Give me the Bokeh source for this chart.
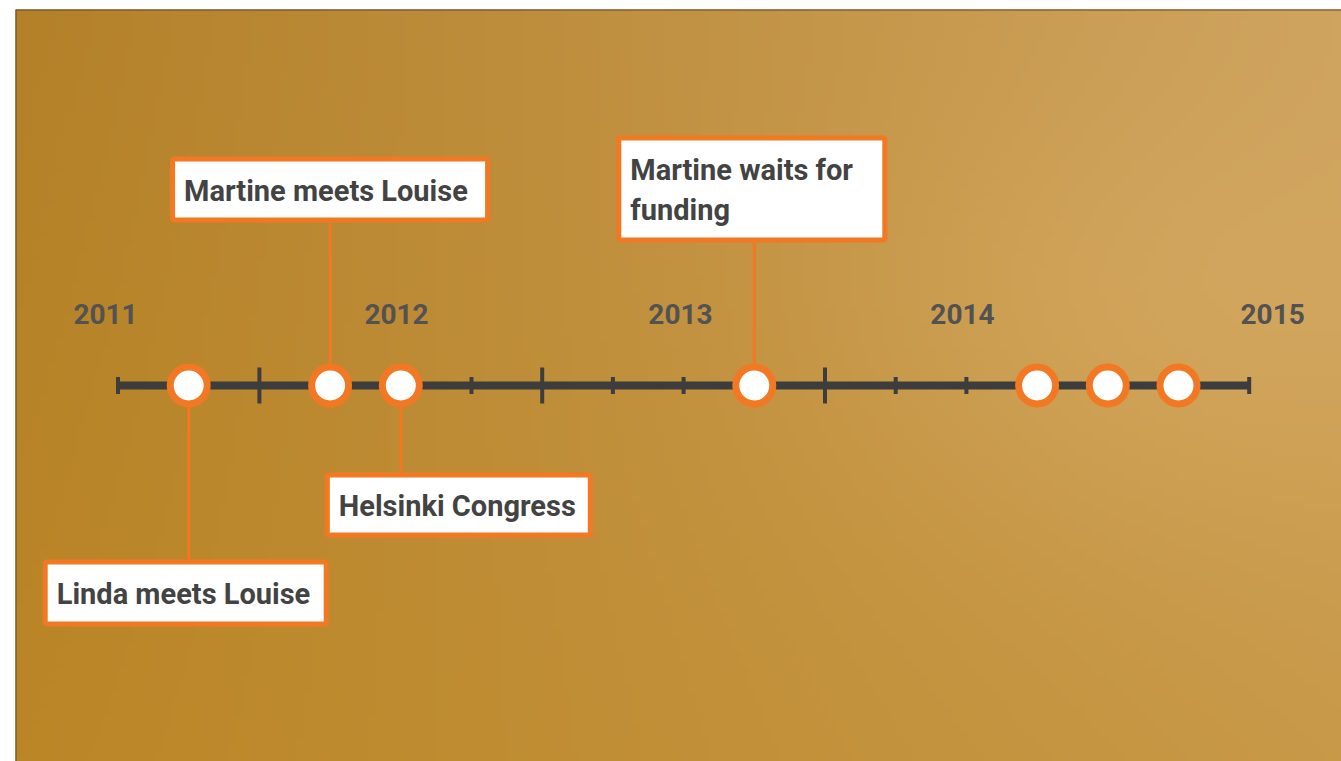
import numpy as np
from bokeh.plotting import figure
from bokeh.models import Range1d, Span
from bokeh.core.properties import value
from bokeh.embed import file_html
from bokeh.resources import INLINE

# ---------------- data ----------------
event_dates = [2011.25, 2011.75, 2012.0, 2013.25, 2014.25, 2014.5, 2014.75]
labeled_dates = [2011.25, 2011.75, 2012.0, 2013.25]
labeled_titles = ["Linda meets Louise", "Martine meets Louise",
                  "Helsinki Congress", "Martine waits for\nfunding"]
year_labels = ["2011", "2012", "2013", "2014", "2015"]
year_label_pos = [2010.956, 2011.985, 2012.989, 2013.986, 2015.083]
axis_start, axis_end = 2011.0, 2015.0
major_ticks = [2011.5, 2012.5, 2013.5]
minor_ticks = [2011.0, 2012.25, 2012.75, 2013.0, 2013.75, 2014.0, 2015.0]

# ---------------- layout (pixels) ----------------
W, H = 1341, 761
border_left, border_top = 15, 9
frame_w, frame_h = W - border_left, H - border_top
px_per_year = 282.8
origin_px = 102.5               # frame px of axis_start
x_start = axis_start - origin_px / px_per_year
x_end = x_start + frame_w / px_per_year
axis_y = 376
major_half, minor_half = 18, 8.5
year_label_y = 448

box_left_off = [-146, -160, -76, -138]
box_width = [286, 320, 268, 271]
box_top = [202, 605, 289, 626]
box_height = [67, 66, 65, 107]
box_below = [True, False, True, False]
box_border = 5
text_pad_x = 14
text_mid_shift = -1

ORANGE = "#f27823"
DARK = "#3d3d3d"
TEXT = "#434343"
FONT = "Roboto"

def yrs(px):
    return px / px_per_year

p = figure(width=W, height=H, output_backend="svg", toolbar_location=None,
           x_range=Range1d(x_start, x_end), y_range=Range1d(0, frame_h),
           x_axis_type=None, y_axis_type=None,
           min_border_left=border_left, min_border_top=border_top,
           min_border_right=0, min_border_bottom=0)
p.grid.visible = False
p.outline_line_color = None
p.border_fill_color = "white"
p.background_fill_color = "#c08c38"

# background texture gradient (decoration)
nx, ny = 170, 96
u = np.linspace(0, 1, nx)[None, :, None]
v = np.linspace(0, 1, ny)[:, None, None]
BL = np.array([187, 134, 38]); BR = np.array([200, 153, 72])
TL = np.array([180, 129, 41]); TR = np.array([206, 163, 94])
col = BL * (1 - u) * (1 - v) + BR * u * (1 - v) + TL * (1 - u) * v + TR * u * v
bump = np.exp(-(((u - 0.85) / 0.25) ** 2 + ((v - 0.6) / 0.3) ** 2))
col = col + bump * np.array([8, 9, 12])
col = np.clip(col, 0, 255).astype(np.uint32)
img = (255 << 24) | (col[..., 2] << 16) | (col[..., 1] << 8) | col[..., 0]
p.image_rgba(image=[img.astype(np.uint32)], x=x_start, y=0,
             dw=x_end - x_start, dh=frame_h)

p.add_layout(Span(location=x_start, dimension="height", line_color="#5e4a26", line_width=2))
p.add_layout(Span(location=frame_h, dimension="width", line_color="#5e4a26", line_width=2))

# stems
stem_y1 = [t - h if not b else t for t, h, b in zip(box_top, box_height, box_below)]
p.segment(x0=labeled_dates, x1=labeled_dates, y0=[axis_y] * len(labeled_dates),
          y1=stem_y1, line_color=ORANGE, line_width=3)

# axis line and ticks
p.segment(x0=[axis_start], x1=[axis_end], y0=[axis_y], y1=[axis_y],
          line_color=DARK, line_width=8)
p.segment(x0=major_ticks, x1=major_ticks, y0=[axis_y - major_half] * len(major_ticks),
          y1=[axis_y + major_half] * len(major_ticks), line_color=DARK, line_width=4)
p.segment(x0=minor_ticks, x1=minor_ticks, y0=[axis_y - minor_half] * len(minor_ticks),
          y1=[axis_y + minor_half] * len(minor_ticks), line_color=DARK, line_width=4)

# event markers
p.scatter(x=event_dates, y=[axis_y] * len(event_dates), size=37,
          fill_color="white", line_color=ORANGE, line_width=7)

# label boxes
hb = box_border / 2
p.quad(left=[d + yrs(o + hb) for d, o in zip(labeled_dates, box_left_off)],
       right=[d + yrs(o + w - hb) for d, o, w in zip(labeled_dates, box_left_off, box_width)],
       top=[t - hb for t in box_top],
       bottom=[t - h + hb for t, h in zip(box_top, box_height)],
       fill_color="white", line_color=ORANGE, line_width=box_border)
p.text(x=[d + yrs(o + text_pad_x) for d, o in zip(labeled_dates, box_left_off)],
       y=[t - h / 2 + text_mid_shift for t, h in zip(box_top, box_height)],
       text=labeled_titles,
       text_align="left", text_baseline="middle", text_color=TEXT,
       text_font=value(FONT), text_font_style="bold", text_font_size="29px",
       text_line_height=1.2)

# year labels
p.text(x=year_label_pos, y=[year_label_y] * len(year_labels), text=year_labels,
       text_align="center", text_baseline="alphabetic", text_color="#525252",
       text_font=value(FONT), text_font_style="bold", text_font_size="28px")

open("out.html", "w").write(file_html(p, INLINE))
